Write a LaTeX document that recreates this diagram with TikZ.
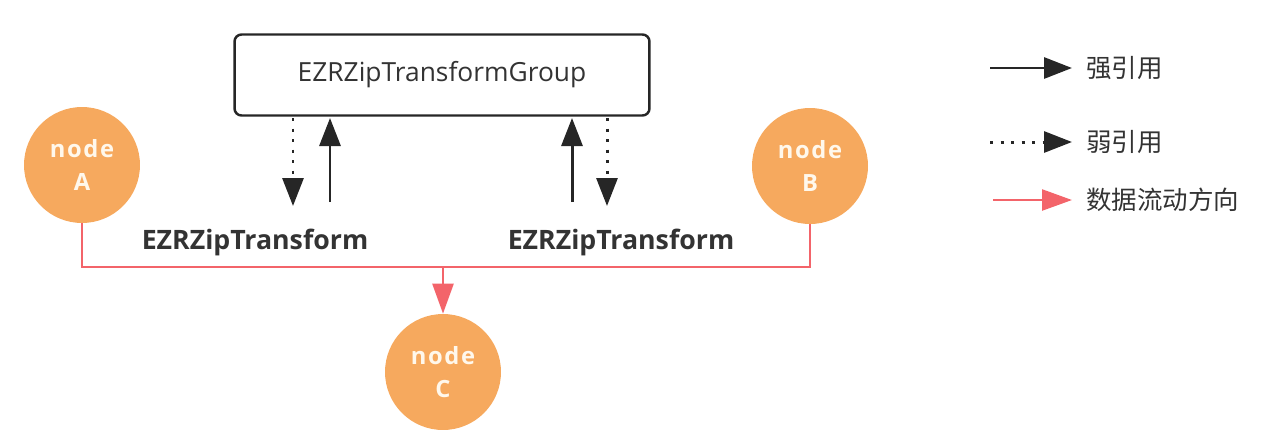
\documentclass[tikz,border=0pt]{standalone}
\usepackage{fontspec}
\setmainfont{Open Sans}
\newfontfamily\cjk{Noto Sans CJK SC}
\newfontfamily\nodefont[LetterSpace=7]{Open Sans}
\usetikzlibrary{arrows.meta}
\definecolor{nodeorange}{HTML}{F6A95E}
\definecolor{flowred}{HTML}{F3646A}
\definecolor{txtgray}{HTML}{333333}
\definecolor{linegray}{HTML}{262626}
\definecolor{nodetext}{HTML}{FFF8EC}
\tikzset{
  strongref/.style={draw=linegray, line width=1.7pt, -{Triangle[length=0.56cm,width=0.42cm]}},
  weakref/.style={draw=linegray, line width=1.7pt, dash pattern=on 1.7pt off 4.3pt, -{Triangle[length=0.56cm,width=0.42cm]}},
  flow/.style={draw=flowred, line width=1.4pt},
  flowarrow/.style={flow, -{Triangle[length=0.6cm,width=0.42cm]}},
  dnode/.style={circle, fill=nodeorange, minimum size=2.32cm, inner sep=0pt, text=nodetext, align=center, font=\nodefont\bfseries\fontsize{13.5}{19}\selectfont},
  groupbox/.style={draw=linegray, line width=1.4pt, rounded corners=0.14cm, minimum width=8.3cm, minimum height=1.62cm, text=txtgray, font=\fontsize{15}{18}\selectfont},
  lbl/.style={text=txtgray, font=\bfseries\fontsize{15.2}{18}\selectfont},
  legtext/.style={text=txtgray, anchor=west, font=\cjk\fontsize{14.5}{17}\selectfont}
}
\begin{document}
\begin{tikzpicture}[x=0.02cm,y=-0.02cm]
\useasboundingbox (0,0) rectangle (1264,444);
\node[groupbox] (grp) at (442,75) {EZRZipTransformGroup};
\node[dnode] (A) at (82,165) {node\\A};
\node[dnode] (B) at (810,166) {node\\B};
\node[dnode] (C) at (443,372) {node\\C};
% transforms
\coordinate (l1t) at (293,118); \coordinate (l1b) at (293,206);
\coordinate (l2t) at (330,118); \coordinate (l2b) at (330,202);
\coordinate (r1t) at (572,118); \coordinate (r1b) at (572,202);
\coordinate (r2t) at (607,118); \coordinate (r2b) at (607,206);
\draw[weakref] (l1t) -- (l1b);
\draw[strongref] (l2b) -- (l2t);
\draw[strongref] (r1b) -- (r1t);
\draw[weakref] (r2t) -- (r2b);
\node[lbl] (t1) at (255,242) {EZRZipTransform};
\node[lbl] (t2) at (621,242) {EZRZipTransform};
% flow
\coordinate (j) at (443,267);
\draw[flow] (A.south) |- (j) -| (B.south);
\draw[flowarrow] (j) -- (C.north);
% legend
\coordinate (s1) at (990,68); \coordinate (s2) at (1072,68);
\coordinate (w1) at (990,142); \coordinate (w2) at (1072,142);
\coordinate (f1) at (993,200); \coordinate (f2) at (1072,200);
\draw[strongref] (s1) -- (s2);
\draw[weakref] (w1) -- (w2);
\draw[flowarrow] (f1) -- (f2);
\node[legtext] (lg1) at (1080,68) {强引用};
\node[legtext] (lg2) at (1080,142) {弱引用};
\node[legtext] (lg3) at (1080,200) {数据流动方向};
\end{tikzpicture}
\end{document}
